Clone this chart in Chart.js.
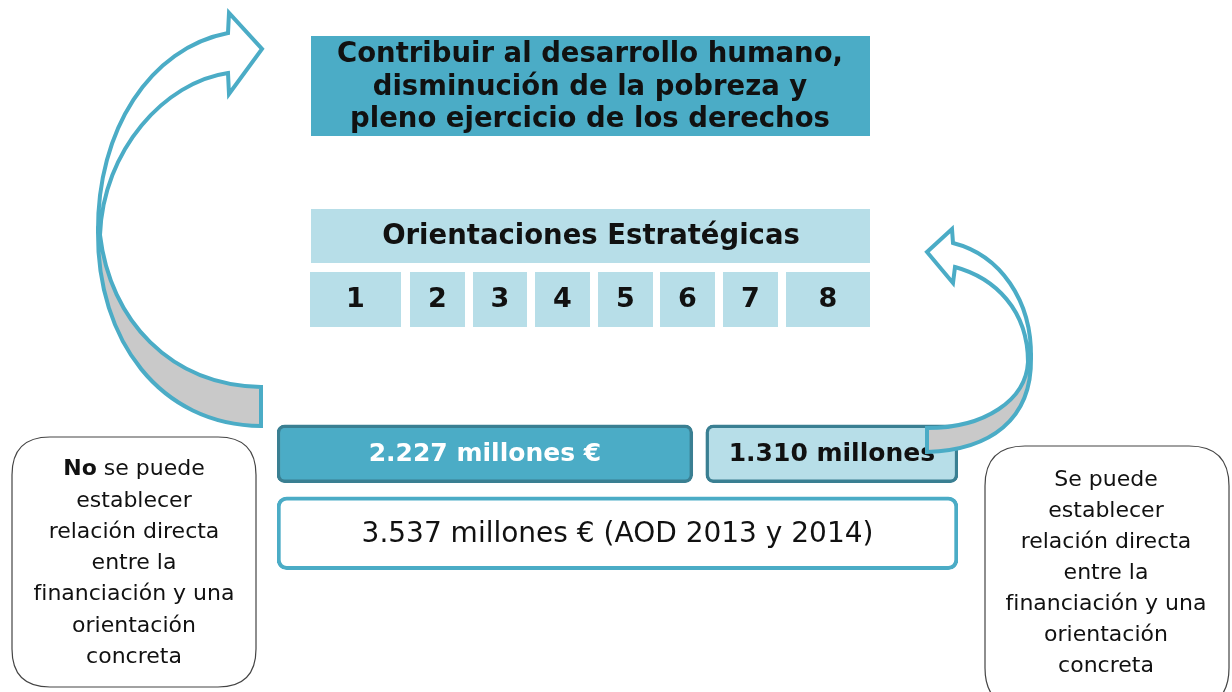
<!DOCTYPE html>
<html lang="es">
<head>
<meta charset="utf-8">
<title>AOD 2013 y 2014 - Orientaciones Estratégicas</title>
<script src="https://cdn.jsdelivr.net/npm/chart.js@4/dist/chart.umd.min.js"></script>
<style>
  html, body { margin: 0; padding: 0; background: #ffffff; }
  canvas { display: block; }
</style>
</head>
<body>
<canvas id="aodChart" width="1232" height="692"></canvas>
<script>
// data
const filas = ["Desglose", "Total"];
const sinRelacion = [2227, null];   // millones €
const conRelacion = [1310, null];   // millones €
const aodTotal = [null, 3537];      // millones €
const etiquetasBarras = ["2.227 millones €", "1.310 millones", "3.537 millones € (AOD 2013 y 2014)"];
const orientaciones = ["1", "2", "3", "4", "5", "6", "7", "8"];
const tituloLineas = ["Contribuir al desarrollo humano,", "disminución de la pobreza y", "pleno ejercicio de los derechos"];
const encabezado = "Orientaciones Estratégicas";
const textoIzq = ["se puede", "establecer", "relación directa", "entre la", "financiación y una", "orientación", "concreta"];
const textoDer = ["Se puede", "establecer", "relación directa", "entre la", "financiación y una", "orientación", "concreta"];

const TEAL = "#4BACC6";
const TEAL_DARK = "#3A7F92";
const LIGHT = "#B7DEE8";
const GRAY = "#C9C9C9";
const FONT = "'DejaVu Sans', Verdana, sans-serif";
const barGap = 13;

function roundRect(ctx, x, y, w, h, r) {
  ctx.beginPath();
  ctx.moveTo(x + r, y);
  ctx.lineTo(x + w - r, y);
  ctx.quadraticCurveTo(x + w, y, x + w, y + r);
  ctx.lineTo(x + w, y + h - r);
  ctx.quadraticCurveTo(x + w, y + h, x + w - r, y + h);
  ctx.lineTo(x + r, y + h);
  ctx.quadraticCurveTo(x, y + h, x, y + h - r);
  ctx.lineTo(x, y + r);
  ctx.quadraticCurveTo(x, y, x + r, y);
  ctx.closePath();
}

function drawArrows(ctx) {
  ctx.save();
  ctx.lineWidth = 4;
  ctx.strokeStyle = TEAL;
  ctx.lineJoin = "miter";

  // left arrow, lower (back) part
  ctx.beginPath();
  ctx.moveTo(98, 232);
  ctx.bezierCurveTo(97, 340, 160, 425, 261, 426);
  ctx.lineTo(261, 387);
  ctx.bezierCurveTo(170, 385, 110, 320, 100, 235);
  ctx.closePath();
  ctx.fillStyle = GRAY;
  ctx.fill();
  ctx.stroke();

  // left arrow, upper (front) part with head
  ctx.beginPath();
  ctx.moveTo(98, 232);
  ctx.bezierCurveTo(97, 130, 150, 48, 228, 33);
  ctx.lineTo(229, 13);
  ctx.lineTo(262, 49);
  ctx.lineTo(229, 94);
  ctx.lineTo(228, 73);
  ctx.bezierCurveTo(165, 82, 103, 150, 100, 235);
  ctx.closePath();
  ctx.fillStyle = "#ffffff";
  ctx.fill();
  ctx.stroke();

  // right arrow, lower part
  ctx.beginPath();
  ctx.moveTo(1031, 358);
  ctx.bezierCurveTo(1032, 420, 990, 450, 927, 452);
  ctx.lineTo(927, 428);
  ctx.bezierCurveTo(985, 428, 1026, 400, 1028, 362);
  ctx.closePath();
  ctx.fillStyle = GRAY;
  ctx.fill();
  ctx.stroke();

  // right arrow, upper part with head
  ctx.beginPath();
  ctx.moveTo(1031, 358);
  ctx.bezierCurveTo(1032, 300, 1000, 255, 953, 243);
  ctx.lineTo(952, 229);
  ctx.lineTo(927, 252);
  ctx.lineTo(953, 283);
  ctx.lineTo(955, 267);
  ctx.bezierCurveTo(995, 278, 1028, 310, 1028, 362);
  ctx.closePath();
  ctx.fillStyle = "#ffffff";
  ctx.fill();
  ctx.stroke();
  ctx.restore();
}

const diagramPlugin = {
  id: "diagram",
  afterDatasetsUpdate(chart) {
    // small white gap between the two halves of the top row
    const el = chart.getDatasetMeta(0).data[0];
    if (el) el.x -= barGap;
  },
  beforeDatasetsDraw(chart) {
    const ctx = chart.ctx;
    ctx.save();
    ctx.textAlign = "center";
    ctx.textBaseline = "middle";

    // title box
    ctx.fillStyle = TEAL;
    ctx.fillRect(311, 36, 559, 100);
    ctx.fillStyle = "#111111";
    ctx.font = "bold 27.5px " + FONT;
    tituloLineas.forEach((t, i) => ctx.fillText(t, 590, 55 + i * 32.5));

    // header
    ctx.fillStyle = LIGHT;
    ctx.fillRect(311, 209, 559, 54);
    ctx.fillStyle = "#111111";
    ctx.fillText(encabezado, 591, 237);

    // orientation boxes
    const cajas = [[310, 401], [410, 465], [473, 527], [535, 590], [598, 653], [660, 715], [723, 778], [786, 870]];
    ctx.font = "bold 27px " + FONT;
    orientaciones.forEach((o, i) => {
      const [a, b] = cajas[i];
      ctx.fillStyle = LIGHT;
      ctx.fillRect(a, 272, b - a, 55);
      ctx.fillStyle = "#111111";
      ctx.fillText(o, (a + b) / 2, 300);
    });

    // side boxes
    ctx.lineWidth = 1.2;
    ctx.strokeStyle = "#444444";
    ctx.fillStyle = "#ffffff";
    roundRect(ctx, 12, 437, 244, 250, 38);
    ctx.fill();
    ctx.stroke();
    roundRect(ctx, 985, 446, 244, 262, 40);
    ctx.fill();
    ctx.stroke();

    ctx.fillStyle = "#111111";
    // first line of left box: bold "No" + regular text
    const bold = "bold 22px " + FONT;
    const reg = "22px " + FONT;
    ctx.font = bold;
    const wNo = ctx.measureText("No").width;
    ctx.font = reg;
    const wRest = ctx.measureText(" " + textoIzq[0]).width;
    const x0 = 134 - (wNo + wRest) / 2;
    ctx.textAlign = "left";
    ctx.font = bold;
    ctx.fillText("No", x0, 469);
    ctx.font = reg;
    ctx.fillText(" " + textoIzq[0], x0 + wNo, 469);
    ctx.textAlign = "center";
    textoIzq.slice(1).forEach((t, i) => ctx.fillText(t, 134, 501 + i * 31.2));
    textoDer.forEach((t, i) => ctx.fillText(t, 1106, 480 + i * 31));
    ctx.restore();
  },
  afterDatasetsDraw(chart) {
    const ctx = chart.ctx;
    ctx.save();
    ctx.textAlign = "center";
    ctx.textBaseline = "middle";
    const estilos = [
      { font: "bold 25px " + FONT, color: "#ffffff" },
      { font: "bold 25px " + FONT, color: "#111111" },
      { font: "28px " + FONT, color: "#111111" }
    ];
    chart.data.datasets.forEach((ds, di) => {
      const meta = chart.getDatasetMeta(di);
      meta.data.forEach((el, i) => {
        if (ds.data[i] == null) return;
        ctx.font = estilos[di].font;
        ctx.fillStyle = estilos[di].color;
        ctx.fillText(etiquetasBarras[di], (el.x + el.base) / 2, el.y + 1);
      });
    });
    ctx.restore();
    drawArrows(ctx);
  }
};

const radius = (r) => ({ topLeft: r, topRight: r, bottomLeft: r, bottomRight: r });

new Chart(document.getElementById("aodChart").getContext("2d"), {
  type: "bar",
  data: {
    labels: filas,
    datasets: [
      {
        label: "Sin relación directa",
        data: sinRelacion,
        backgroundColor: TEAL,
        borderColor: TEAL_DARK,
        borderWidth: 3.5,
        borderRadius: radius(8),
        borderSkipped: false,
        barThickness: 58
      },
      {
        label: "Con relación directa",
        data: conRelacion,
        backgroundColor: LIGHT,
        borderColor: TEAL_DARK,
        borderWidth: 3.5,
        borderRadius: radius(8),
        borderSkipped: false,
        barThickness: 58
      },
      {
        label: "AOD 2013 y 2014",
        data: aodTotal,
        backgroundColor: "#ffffff",
        borderColor: TEAL,
        borderWidth: 4,
        borderRadius: radius(10),
        borderSkipped: false,
        barThickness: 73
      }
    ]
  },
  options: {
    indexAxis: "y",
    responsive: false,
    devicePixelRatio: 1,
    animation: false,
    layout: { padding: { left: 277, right: 274, top: 414, bottom: 119 } },
    plugins: { legend: { display: false }, tooltip: { enabled: false } },
    scales: {
      x: { stacked: true, min: 0, max: 3537, display: false },
      y: { stacked: true, display: false }
    }
  },
  plugins: [diagramPlugin]
});
</script>
</body>
</html>
